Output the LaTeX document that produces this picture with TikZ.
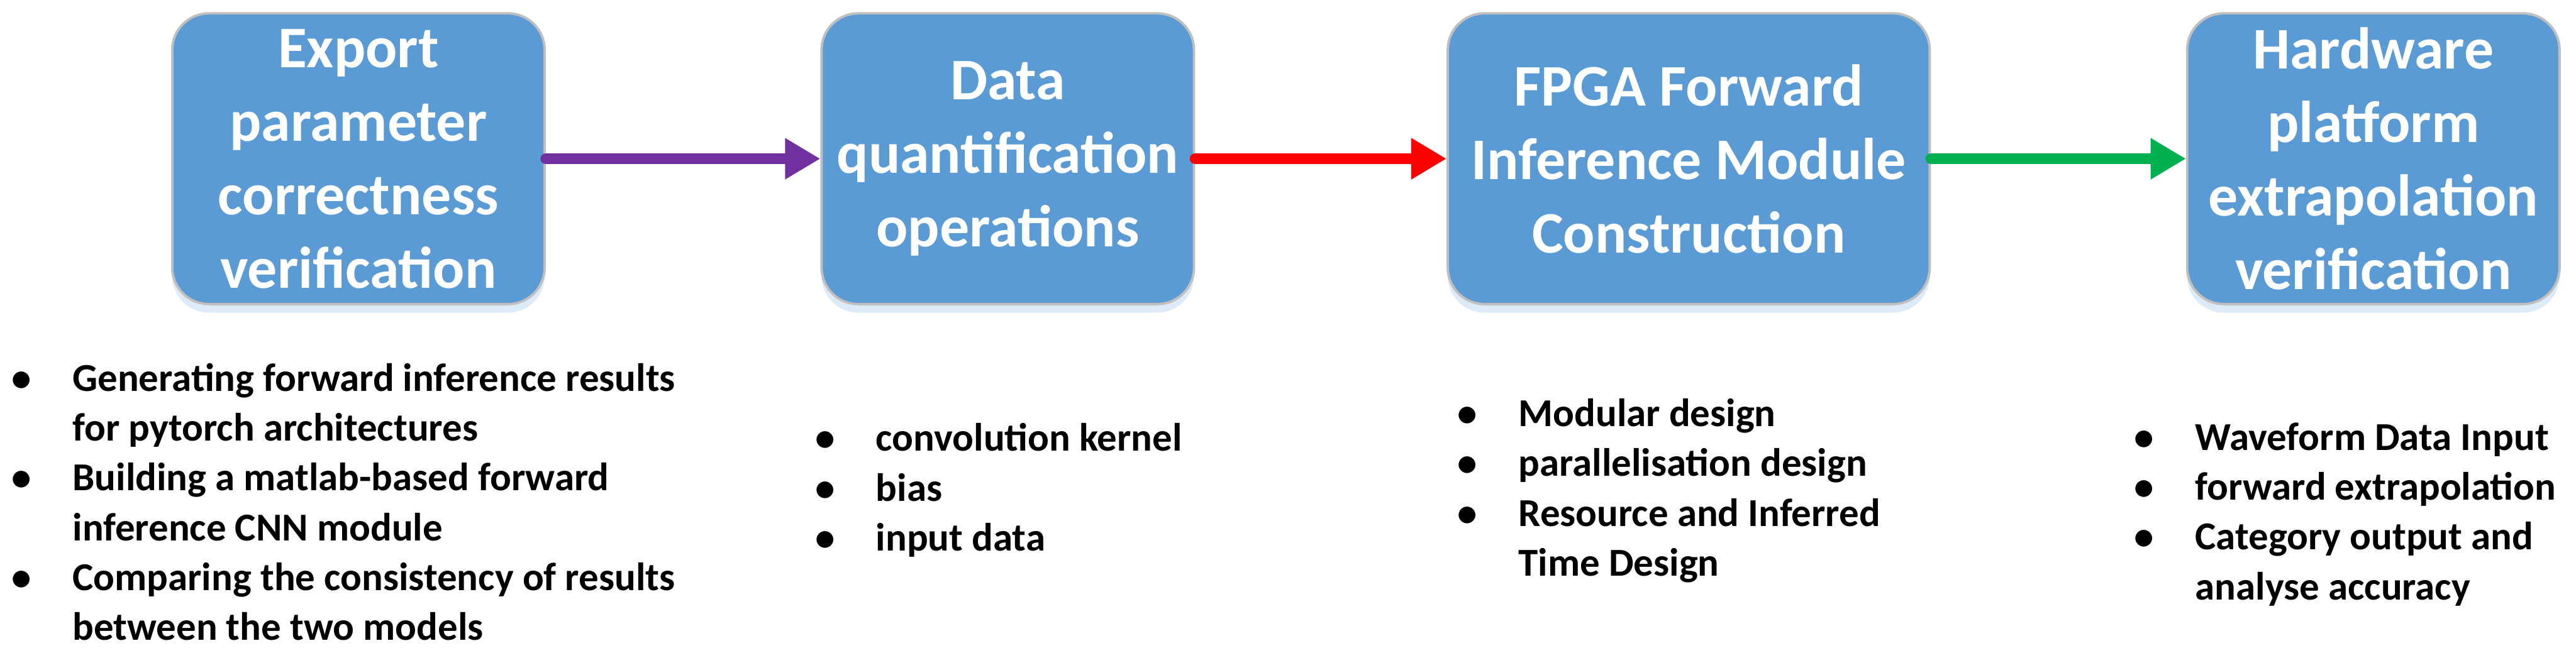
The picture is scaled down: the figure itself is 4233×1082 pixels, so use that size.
\documentclass[tikz,border=0pt]{standalone}
\usepackage{fontspec}
\setmainfont{Carlito}
\usetikzlibrary{arrows.meta,shadows}
\definecolor{boxblue}{HTML}{5B9BD5}
\definecolor{boxline}{HTML}{BFBFBF}
\definecolor{shadeblue}{HTML}{DDEAF7}
\definecolor{arrpurple}{HTML}{7030A0}
\definecolor{arrred}{HTML}{FF0000}
\definecolor{arrgreen}{HTML}{00B050}
\tikzset{
  stage/.style={draw=boxline, line width=2pt, fill=boxblue, rounded corners=30pt,
    minimum height=239pt, inner sep=0pt, text=white, align=center,
    font=\fontsize{48.5}{60.5}\selectfont\bfseries,
    drop shadow={shadow xshift=0pt, shadow yshift=-7pt, fill=shadeblue, opacity=1}},
  flow/.style={line width=9pt, line cap=round, -{Triangle[length=29pt,width=32pt]}},
  notes/.style={anchor=base west, align=left, inner sep=0pt,
    font=\fontsize{32.5}{41}\selectfont\bfseries}
}
\newcommand{\bul}{\makebox[50pt][l]{\textbullet}}
\newcommand{\gap}{\hspace*{50pt}}

\begin{document}
\begin{tikzpicture}[x=0.5pt,y=-0.5pt]
\useasboundingbox (0,0) rectangle (4233,1082);
\node[stage, minimum width=306pt] (export) at (589,261) {Export\\parameter\\correctness\\verification};
\node[stage, minimum width=306pt] (quant) at (1656,261) {Data\\quantification\\operations};
\node[stage, minimum width=396pt] (fpga) at (2775,261) {FPGA Forward\\Inference Module\\Construction};
\node[stage, minimum width=306pt] (hw) at (3900,261) {Hardware\\platform\\extrapolation\\verification};
\draw[flow, arrpurple] (export) -- (quant);
\draw[flow, arrred] (quant) -- (fpga);
\draw[flow, arrgreen] (fpga) -- (hw);
\node[notes] (exportnotes) at (19,1053) {\bul Generating forward inference results\\\gap for pytorch architectures\\\bul Building a matlab-based forward\\\gap inference CNN module\\\bul Comparing the consistency of results\\\gap between the two models};
\node[notes] (quantnotes) at (1339,906) {\bul convolution kernel\\\bul bias\\\bul input data};
\node[notes] (fpganotes) at (2395,947) {\bul Modular design\\\bul parallelisation design\\\bul Resource and Inferred\\\gap Time Design};
\node[notes] (hwnotes) at (3507,986) {\bul Waveform Data Input\\\bul forward extrapolation\\\bul Category output and\\\gap analyse accuracy};
\end{tikzpicture}
\end{document}
